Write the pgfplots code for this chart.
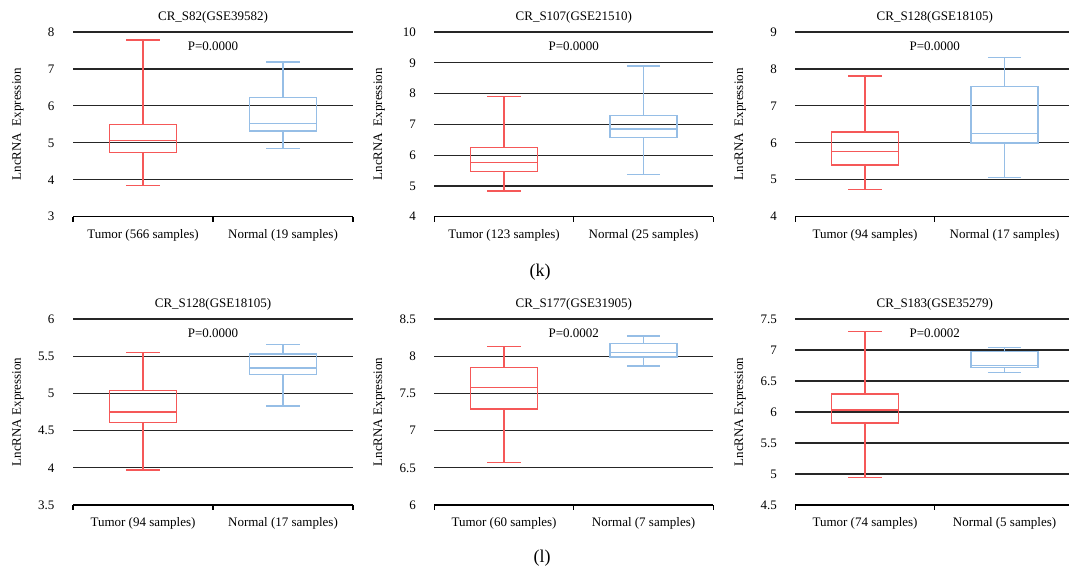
\documentclass[border=0pt]{standalone}
\usepackage{pgfplots}
\pgfplotsset{compat=1.18}
\usepgfplotslibrary{statistics}
\usepackage{fontspec}
\setmainfont{Liberation Serif}
\definecolor{tumred}{RGB}{245,88,88}
\definecolor{normblue}{RGB}{150,190,230}
\pgfplotsset{
  panel/.style={
    scale only axis, width=279bp, height=185bp, anchor=south west,
    xmin=0.5, xmax=2.5, xtick={1,2},
    axis x line=bottom, axis y line=left,
    x axis line style={-, line width=1.3bp, black},
    y axis line style={draw=none},
    major tick length=0pt,
    extra x ticks={0.5,1.5,2.5}, extra x tick labels={},
    extra x tick style={xtick align=outside, major tick length=5bp, tick style={line width=1.3bp, black}, grid=none},
    ymajorgrids, grid style={line width=1.2bp, black!85},
    /pgf/number format/assume math mode=true,
    tick label style={font=\fontsize{13bp}{15bp}\selectfont},
    yticklabel style={xshift=-15bp},
    xticklabel style={yshift=-9bp},
    title style={font=\fontsize{13bp}{15bp}\selectfont, at={(axis description cs:0.5,1)}, anchor=center, yshift=9bp},
    every axis y label/.style={at={([xshift=-55bp]axis description cs:0,0.5)}, rotate=90, anchor=center, font=\fontsize{13bp}{15bp}\selectfont},
    boxplot/draw direction=y,
  },
  tum/.style={draw=tumred, line width=1.4bp, solid, mark=none},
  nor/.style={draw=normblue, line width=1.4bp, solid, mark=none},
}
\newcommand{\pval}[1]{\node[font=\fontsize{13bp}{15bp}\selectfont] at ([yshift=-14bp]axis description cs:0.5,1) {#1};}
\begin{document}
\begin{tikzpicture}
\path[use as bounding box] (0bp,0bp) rectangle (1069bp,571bp);
\clip (0bp,0bp) rectangle (1069bp,571bp);
% ---- top row ----
\begin{axis}[panel, at={(73bp,354.3bp)}, width=280bp, height=184.7bp,
  ymin=3, ymax=8, ytick={3,4,5,6,7,8},
  xticklabels={Tumor (566 samples), Normal (19 samples)},
  title={CR\_S82(GSE39582)}, ylabel={LncRNA\ \ Expression}]
\addplot+[tum, boxplot prepared={lower whisker=3.85, lower quartile=4.73, median=5.06, upper quartile=5.50, upper whisker=7.78, draw position=1, box extend=0.48, whisker extend=0.24}] coordinates {};
\addplot+[nor, boxplot prepared={lower whisker=4.84, lower quartile=5.32, median=5.52, upper quartile=6.23, upper whisker=7.19, draw position=2, box extend=0.48, whisker extend=0.24}] coordinates {};
\pval{P=0.0000}
\end{axis}
\begin{axis}[panel, at={(434.3bp,354.3bp)}, height=184.7bp,
  ymin=4, ymax=10, ytick={4,5,6,7,8,9,10},
  xticklabels={Tumor (123 samples), Normal (25 samples)},
  title={CR\_S107(GSE21510)}, ylabel={LncRNA\ \ Expression}]
\addplot+[tum, boxplot prepared={lower whisker=4.83, lower quartile=5.47, median=5.76, upper quartile=6.24, upper whisker=7.90, draw position=1, box extend=0.48, whisker extend=0.24}] coordinates {};
\addplot+[nor, boxplot prepared={lower whisker=5.38, lower quartile=6.57, median=6.85, upper quartile=7.28, upper whisker=8.89, draw position=2, box extend=0.48, whisker extend=0.24}] coordinates {};
\pval{P=0.0000}
\end{axis}
\begin{axis}[panel, at={(795.3bp,354.3bp)}, height=184.7bp,
  ymin=4, ymax=9, ytick={4,5,6,7,8,9},
  xticklabels={Tumor (94 samples), Normal (17 samples)},
  title={CR\_S128(GSE18105)}, ylabel={LncRNA\ \ Expression}]
\addplot+[tum, boxplot prepared={lower whisker=4.73, lower quartile=5.40, median=5.77, upper quartile=6.29, upper whisker=7.81, draw position=1, box extend=0.48, whisker extend=0.24}] coordinates {};
\addplot+[nor, boxplot prepared={lower whisker=5.06, lower quartile=5.99, median=6.25, upper quartile=7.52, upper whisker=8.31, draw position=2, box extend=0.48, whisker extend=0.24}] coordinates {};
\pval{P=0.0000}
\end{axis}
\node[font=\fontsize{18bp}{20bp}\selectfont] at (540bp,299bp) {(k)};
% ---- bottom row ----
\begin{axis}[panel, at={(73bp,66bp)}, width=280bp, height=186bp,
  ymin=3.5, ymax=6, ytick={3.5,4,4.5,5,5.5,6},
  xticklabels={Tumor (94 samples), Normal (17 samples)},
  title={CR\_S128(GSE18105)}, ylabel={LncRNA Expression}]
\addplot+[tum, boxplot prepared={lower whisker=3.97, lower quartile=4.61, median=4.75, upper quartile=5.04, upper whisker=5.55, draw position=1, box extend=0.48, whisker extend=0.24}] coordinates {};
\addplot+[nor, boxplot prepared={lower whisker=4.83, lower quartile=5.25, median=5.34, upper quartile=5.53, upper whisker=5.66, draw position=2, box extend=0.48, whisker extend=0.24}] coordinates {};
\pval{P=0.0000}
\end{axis}
\begin{axis}[panel, at={(434.3bp,66bp)}, height=186bp,
  ymin=6, ymax=8.5, ytick={6,6.5,7,7.5,8,8.5},
  xticklabels={Tumor (60 samples), Normal (7 samples)},
  title={CR\_S177(GSE31905)}, ylabel={LncRNA Expression}]
\addplot+[tum, boxplot prepared={lower whisker=6.57, lower quartile=7.29, median=7.58, upper quartile=7.85, upper whisker=8.13, draw position=1, box extend=0.48, whisker extend=0.24}] coordinates {};
\addplot+[nor, boxplot prepared={lower whisker=7.87, lower quartile=7.99, median=8.05, upper quartile=8.17, upper whisker=8.27, draw position=2, box extend=0.48, whisker extend=0.24}] coordinates {};
\pval{P=0.0002}
\end{axis}
\begin{axis}[panel, at={(795.3bp,66bp)}, height=186bp,
  ymin=4.5, ymax=7.5, ytick={4.5,5,5.5,6,6.5,7,7.5},
  xticklabels={Tumor (74 samples), Normal (5 samples)},
  title={CR\_S183(GSE35279)}, ylabel={LncRNA Expression}]
\addplot+[tum, boxplot prepared={lower whisker=4.94, lower quartile=5.82, median=6.03, upper quartile=6.29, upper whisker=7.30, draw position=1, box extend=0.48, whisker extend=0.24}] coordinates {};
\addplot+[nor, boxplot prepared={lower whisker=6.64, lower quartile=6.72, median=6.75, upper quartile=6.98, upper whisker=7.04, draw position=2, box extend=0.48, whisker extend=0.24}] coordinates {};
\pval{P=0.0002}
\end{axis}
\node[font=\fontsize{18bp}{20bp}\selectfont] at (542bp,13bp) {(l)};
\end{tikzpicture}
\end{document}
